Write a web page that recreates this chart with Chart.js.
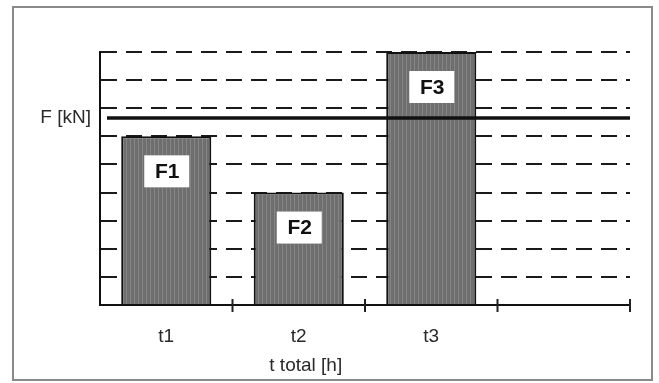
<!DOCTYPE html>
<html>
<head>
<meta charset="utf-8">
<script src="https://cdn.jsdelivr.net/npm/chart.js@4/dist/chart.umd.min.js"></script>
<style>
  html, body { margin: 0; padding: 0; background: #fff; }
  #wrap { width: 659px; height: 383px; }
</style>
</head>
<body>
<div id="wrap"><canvas id="loadChart" width="659" height="383"></canvas></div>
<script>
// chart data
const categories = ['t1', 't2', 't3', ''];
const forces = [6, 4, 9, null];
const barLabels = ['F1', 'F2', 'F3', ''];
const yMin = 0;
const yMax = 9;
const yStep = 1;
const limitValue = 6.65;
const limitLabel = 'F [kN]';
const xTitle = 't total [h]';

const FONT = '"Liberation Sans", Arial, sans-serif';

// vertical hatch fill like the scanned bars
function makeHatch() {
  const c = document.createElement('canvas');
  c.width = 4; c.height = 4;
  const g = c.getContext('2d');
  g.fillStyle = '#6e6e6e';
  g.fillRect(0, 0, 4, 4);
  g.fillStyle = '#858585';
  g.fillRect(2, 0, 1, 4);
  return g.createPattern(c, 'repeat');
}

const framePlugin = {
  id: 'frame',
  beforeDraw(chart) {
    const ctx = chart.ctx;
    ctx.save();
    ctx.fillStyle = '#fff';
    ctx.fillRect(0, 0, chart.width, chart.height);
    ctx.strokeStyle = '#8a8a8a';
    ctx.lineWidth = 2;
    ctx.strokeRect(13, 7, 639, 373);
    ctx.restore();
  }
};

const extrasPlugin = {
  id: 'extras',
  afterDatasetsDraw(chart) {
    const ctx = chart.ctx;
    const x = chart.scales.x;
    const y = chart.scales.y;
    const area = chart.chartArea;
    ctx.save();

    // limit line + its label on the left
    const ly = y.getPixelForValue(limitValue);
    ctx.strokeStyle = '#111';
    ctx.lineWidth = 3.5;
    ctx.beginPath();
    ctx.moveTo(area.left + 7, ly);
    ctx.lineTo(area.right, ly);
    ctx.stroke();
    ctx.fillStyle = '#2a2a2a';
    ctx.font = '19px ' + FONT;
    ctx.textAlign = 'right';
    ctx.textBaseline = 'middle';
    ctx.fillText(limitLabel, area.left - 9, ly);

    // x tick marks crossing the axis at category boundaries
    const n = categories.length;
    ctx.strokeStyle = '#222';
    ctx.lineWidth = 2;
    for (let i = 1; i <= n; i++) {
      const tx = x.left + i * (x.width / n);
      ctx.beginPath();
      ctx.moveTo(tx, area.bottom - 6);
      ctx.lineTo(tx, area.bottom + 7);
      ctx.stroke();
    }

    // boxed labels inside the bars
    const meta = chart.getDatasetMeta(0);
    ctx.font = 'bold 21px ' + FONT;
    ctx.textAlign = 'center';
    ctx.textBaseline = 'middle';
    meta.data.forEach((bar, i) => {
      if (forces[i] == null) return;
      const cx = bar.x;
      const cy = bar.y + 35;
      ctx.fillStyle = '#fff';
      ctx.fillRect(cx - 22, cy - 16, 45, 32);
      ctx.fillStyle = '#111';
      ctx.fillText(barLabels[i], cx + 1, cy + 1);
    });

    // axis title under t2
    ctx.font = '19px ' + FONT;
    ctx.fillStyle = '#2a2a2a';
    ctx.fillText(xTitle, x.getPixelForValue(1) + 7, 366);

    ctx.restore();
  }
};

const ctx = document.getElementById('loadChart').getContext('2d');
new Chart(ctx, {
  type: 'bar',
  data: {
    labels: categories,
    datasets: [{
      data: forces,
      backgroundColor: makeHatch(),
      borderColor: '#111',
      borderWidth: 2,
      borderSkipped: 'bottom',
      barPercentage: 0.68,
      categoryPercentage: 1
    }]
  },
  options: {
    responsive: false,
    animation: false,
    layout: { padding: { left: 100, right: 29, top: 52, bottom: 0 } },
    plugins: {
      legend: { display: false },
      tooltip: { enabled: false }
    },
    scales: {
      x: {
        grid: { display: false },
        border: { display: true, color: '#111', width: 2 },
        ticks: {
          color: '#2a2a2a',
          font: { family: FONT, size: 19 },
          padding: 12
        },
        afterFit(scale) { scale.height = 78; }
      },
      y: {
        min: yMin,
        max: yMax,
        ticks: { display: false, stepSize: yStep },
        grid: { color: '#1a1a1a', lineWidth: 2, drawTicks: false },
        border: { display: true, color: '#111', width: 2, dash: [16, 9] },
        afterFit(scale) { scale.width = 0; }
      }
    }
  },
  plugins: [framePlugin, extrasPlugin]
});
</script>
</body>
</html>
